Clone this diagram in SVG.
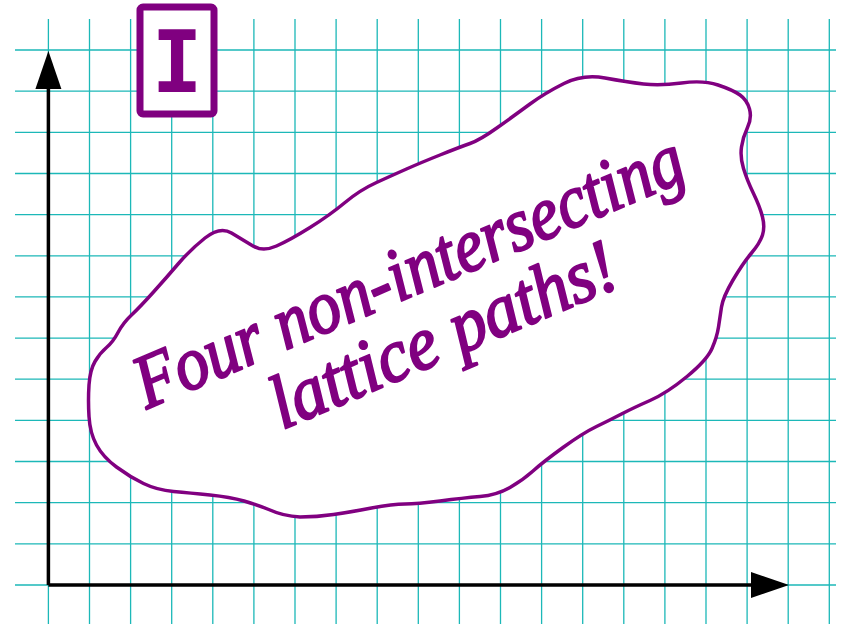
<svg xmlns="http://www.w3.org/2000/svg" width="846" height="629" viewBox="0 0 846 629">
<defs>
<style>
.grid{stroke:#1cb8b8;stroke-width:1.3;fill:none}
.axis{stroke:#000;stroke-width:3.5;fill:none}
.head{fill:#000;stroke:none}
.blob{stroke:#800080;stroke-width:3.5;fill:#fff}
.msg{font-family:"Liberation Serif","DejaVu Serif",serif;font-style:italic;font-weight:normal;font-size:76px;fill:#800080;stroke:#800080;stroke-width:2.2;stroke-linejoin:round;text-anchor:middle}
</style>
</defs>
<rect width="846" height="629" fill="#fff"/>
<g id="grid">
<path class="grid" d="M48.4 19V624M89.5 19V624M130.6 19V624M171.7 19V624M212.8 19V624M253.9 19V624M295 19V624M336.1 19V624M377.2 19V624M418.3 19V624M459.4 19V624M500.5 19V624M541.6 19V624M582.7 19V624M623.8 19V624M664.9 19V624M706 19V624M747.1 19V624M788.2 19V624M829.3 19V624
M15 50H836M15 91.2H836M15 132.3H836M15 173.5H836M15 214.6H836M15 255.8H836M15 296.9H836M15 338.1H836M15 379.2H836M15 420.4H836M15 461.5H836M15 502.7H836M15 543.8H836M15 585H836"/>
</g>
<g id="axes">
<path class="axis" d="M48.4 585V86M48.4 585H754"/>
<polygon class="head" points="48.4,51 35.4,89 61.4,89"/>
<polygon class="head" points="789,585 751,572 751,598"/>
</g>
<g id="label-I">
<rect x="140" y="7" width="74" height="107" rx="3" fill="#fff" stroke="#800080" stroke-width="7"/>
<text x="177" y="92" font-family="DejaVu Sans Mono, monospace" font-weight="bold" font-size="85" fill="#800080" text-anchor="middle">I</text>
</g>
<g id="blob">
<path class="blob" d="M564,83.5 Q583,74 605,78 Q627,82 643.5,84 Q660,86 681.5,83 Q703,80 718,85 Q733,90 740,95 Q747,100 749.5,109 Q752,118 747.5,127.5 Q743,137 741.5,147 Q740,157 743.5,168.5 Q747,180 753.5,193.5 Q760,207 762.5,217 Q765,227 762.5,235 Q760,243 751.5,253 Q743,263 733,280 Q723,297 721.5,307 Q720,317 718.5,327 Q717,337 712,348.5 Q707,360 687,376.5 Q667,393 650,400.5 Q633,408 621.5,414 Q610,420 596.5,426.5 Q583,433 563,447.5 Q543,462 533,471 Q523,480 510,487.5 Q497,495 480,496.5 Q463,498 440,501 Q417,504 405,504 Q393,504 371.5,508 Q350,512 333.5,514.5 Q317,517 300,517 Q283,516 270,510 Q258,505 244,501 Q230,497 210,495 Q190,493 173.5,491.5 Q157,490 143.5,483.5 Q130,477 116.5,467 Q103,457 96.5,445 Q90,433 89,416.5 Q88,400 89,385 Q90,370 95,361.5 Q100,353 106.5,347.5 Q113,342 118,332.5 Q123,323 131.5,315 Q140,307 153.5,292 Q167,277 178.5,263.5 Q190,250 205,238 Q220,226 231.5,233 Q243,240 253,246 Q263,252 276.5,246 Q290,240 310,227.5 Q330,215 345,202.5 Q360,190 376.5,182.5 Q393,175 406.5,169 Q420,163 440,155 Q460,147 470,143.5 Q480,140 497.5,127.5 Q515,115 530,104 Q545,93 564,83.5 Z"/>
<g transform="translate(418,294) rotate(-23)">
<text class="msg" x="0" y="0" textLength="590" lengthAdjust="spacingAndGlyphs">Four non-intersecting</text>
<text class="msg" x="7" y="72" textLength="370" lengthAdjust="spacingAndGlyphs">lattice paths!</text>
</g>
</g>
</svg>
